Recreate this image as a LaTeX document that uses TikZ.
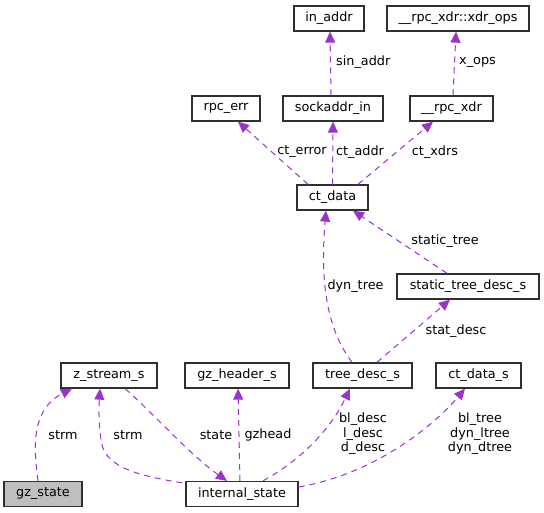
\documentclass[tikz,border=0pt]{standalone}
\usepackage{fontspec}
\setmainfont{DejaVu Sans}
\usetikzlibrary{arrows.meta,calc}
\definecolor{edgec}{HTML}{9A32CD}
\definecolor{boxc}{HTML}{303030}
\definecolor{gzfill}{HTML}{BFBFBF}
\begin{document}
\begin{tikzpicture}[x=1pt,y=-1pt,
  font=\fontsize{12.8}{14.5}\selectfont,
  box/.style={draw=boxc, line width=1.3pt, fill=white, minimum height=25pt, inner sep=0pt, anchor=center},
  rel/.style={draw=edgec, line width=1pt, dash pattern=on 6pt off 5pt,
    -{Triangle[length=11pt,width=10pt,fill=edgec]}},
  lab/.style={inner sep=0pt, align=center}]
\useasboundingbox (0,0) rectangle (544,513);

% boxes
\node[box, minimum width=70pt]  (inaddr)   at (329,18.5)  {in\_addr};
\node[box, minimum width=142pt] (xdrops)   at (458,18.5)  {\_\_rpc\_xdr::xdr\_ops};
\node[box, minimum width=68pt]  (rpcerr)   at (226,108.5) {rpc\_err};
\node[box, minimum width=100pt] (sockaddr) at (333,108.5) {sockaddr\_in};
\node[box, minimum width=83pt]  (rpcxdr)   at (451.5,108.5) {\_\_rpc\_xdr};
\node[box, minimum width=71pt]  (ctdata)   at (332.5,197.5) {ct\_data};
\node[box, minimum width=142pt] (stdesc)   at (468,286.5) {static\_tree\_desc\_s};
\node[box, minimum width=96pt]  (zstream)  at (109,375.5) {z\_stream\_s};
\node[box, minimum width=104pt] (gzheader) at (237,375.5) {gz\_header\_s};
\node[box, minimum width=99pt]  (treedesc) at (362.5,375.5) {tree\_desc\_s};
\node[box, minimum width=85pt]  (ctdatas)  at (478.5,375.5) {ct\_data\_s};
\node[box, minimum width=78pt, fill=gzfill] (gzstate) at (43,494) {gz\_state};
\node[box, minimum width=112pt] (internal) at (242,494) {internal\_state};

% edges
\draw[rel] ([xshift=-2pt]sockaddr.north) -- ([xshift=1pt]inaddr.south);
\draw[rel] ([xshift=1.5pt]rpcxdr.north) -- ([xshift=-2pt]xdrops.south);
\draw[rel] ([xshift=-24.5pt]ctdata.north) -- ([xshift=12pt]rpcerr.south);
\draw[rel] (ctdata.north) -- (sockaddr.south);
\draw[rel] ([xshift=25.5pt]ctdata.north) -- ([xshift=-18.5pt]rpcxdr.south);
\draw[rel] ([xshift=-10.5pt]treedesc.north) .. controls (320,320) and (322,260) .. ([xshift=-6.5pt]ctdata.south);
\draw[rel] ([xshift=-21pt]stdesc.north) -- ([xshift=20.5pt]ctdata.south);
\draw[rel] ([xshift=14.5pt]treedesc.north) -- ([xshift=-18pt]stdesc.south);
\draw[rel] ([xshift=-5pt]gzstate.north) .. controls (34,450) and (30,410) .. ([xshift=-37pt]zstream.south);
\draw[rel] ($(internal.north west)+(-3,2)$) .. controls (140,476) and (108,468) .. (102,445)
   .. controls (98,425) and (99,405) .. ([xshift=-9pt]zstream.south);
\draw[rel] ([xshift=16pt]zstream.south) .. controls (150,410) and (190,455) .. ([xshift=-15pt]internal.north);
\draw[rel] ([xshift=-2pt]internal.north) -- ([xshift=1pt]gzheader.south);
\draw[rel] ([xshift=21pt]internal.north) .. controls (310,455) and (335,420) .. ([xshift=-12.5pt]treedesc.south);
\draw[rel] ($(internal.east)+(0,-7)$) .. controls (370,475) and (430,430) .. ([xshift=-13.5pt]ctdatas.south);

% labels
\node[lab, anchor=west] (lsin)   at (336,62)  {sin\_addr};
\node[lab, anchor=west] (lxops)  at (459,62)  {x\_ops};
\node[lab] (lcterr)  at (302,152) {ct\_error};
\node[lab] (lctaddr) at (360,152) {ct\_addr};
\node[lab] (lctxdrs) at (435,152) {ct\_xdrs};
\node[lab] (lstatic) at (445,241) {static\_tree};
\node[lab] (ldyn)    at (355.5,286) {dyn\_tree};
\node[lab] (lstat)   at (456,331) {stat\_desc};
\node[lab] (lstrm1)  at (63,435)  {strm};
\node[lab] (lstrm2)  at (128,435) {strm};
\node[lab] (lstate)  at (216,435) {state};
\node[lab] (lgzhead) at (268,435) {gzhead};
\node[lab] (ldesc)   at (363,434) {bl\_desc\\l\_desc\\d\_desc};
\node[lab] (ltree)   at (480,434) {bl\_tree\\dyn\_ltree\\dyn\_dtree};
\end{tikzpicture}
\end{document}
